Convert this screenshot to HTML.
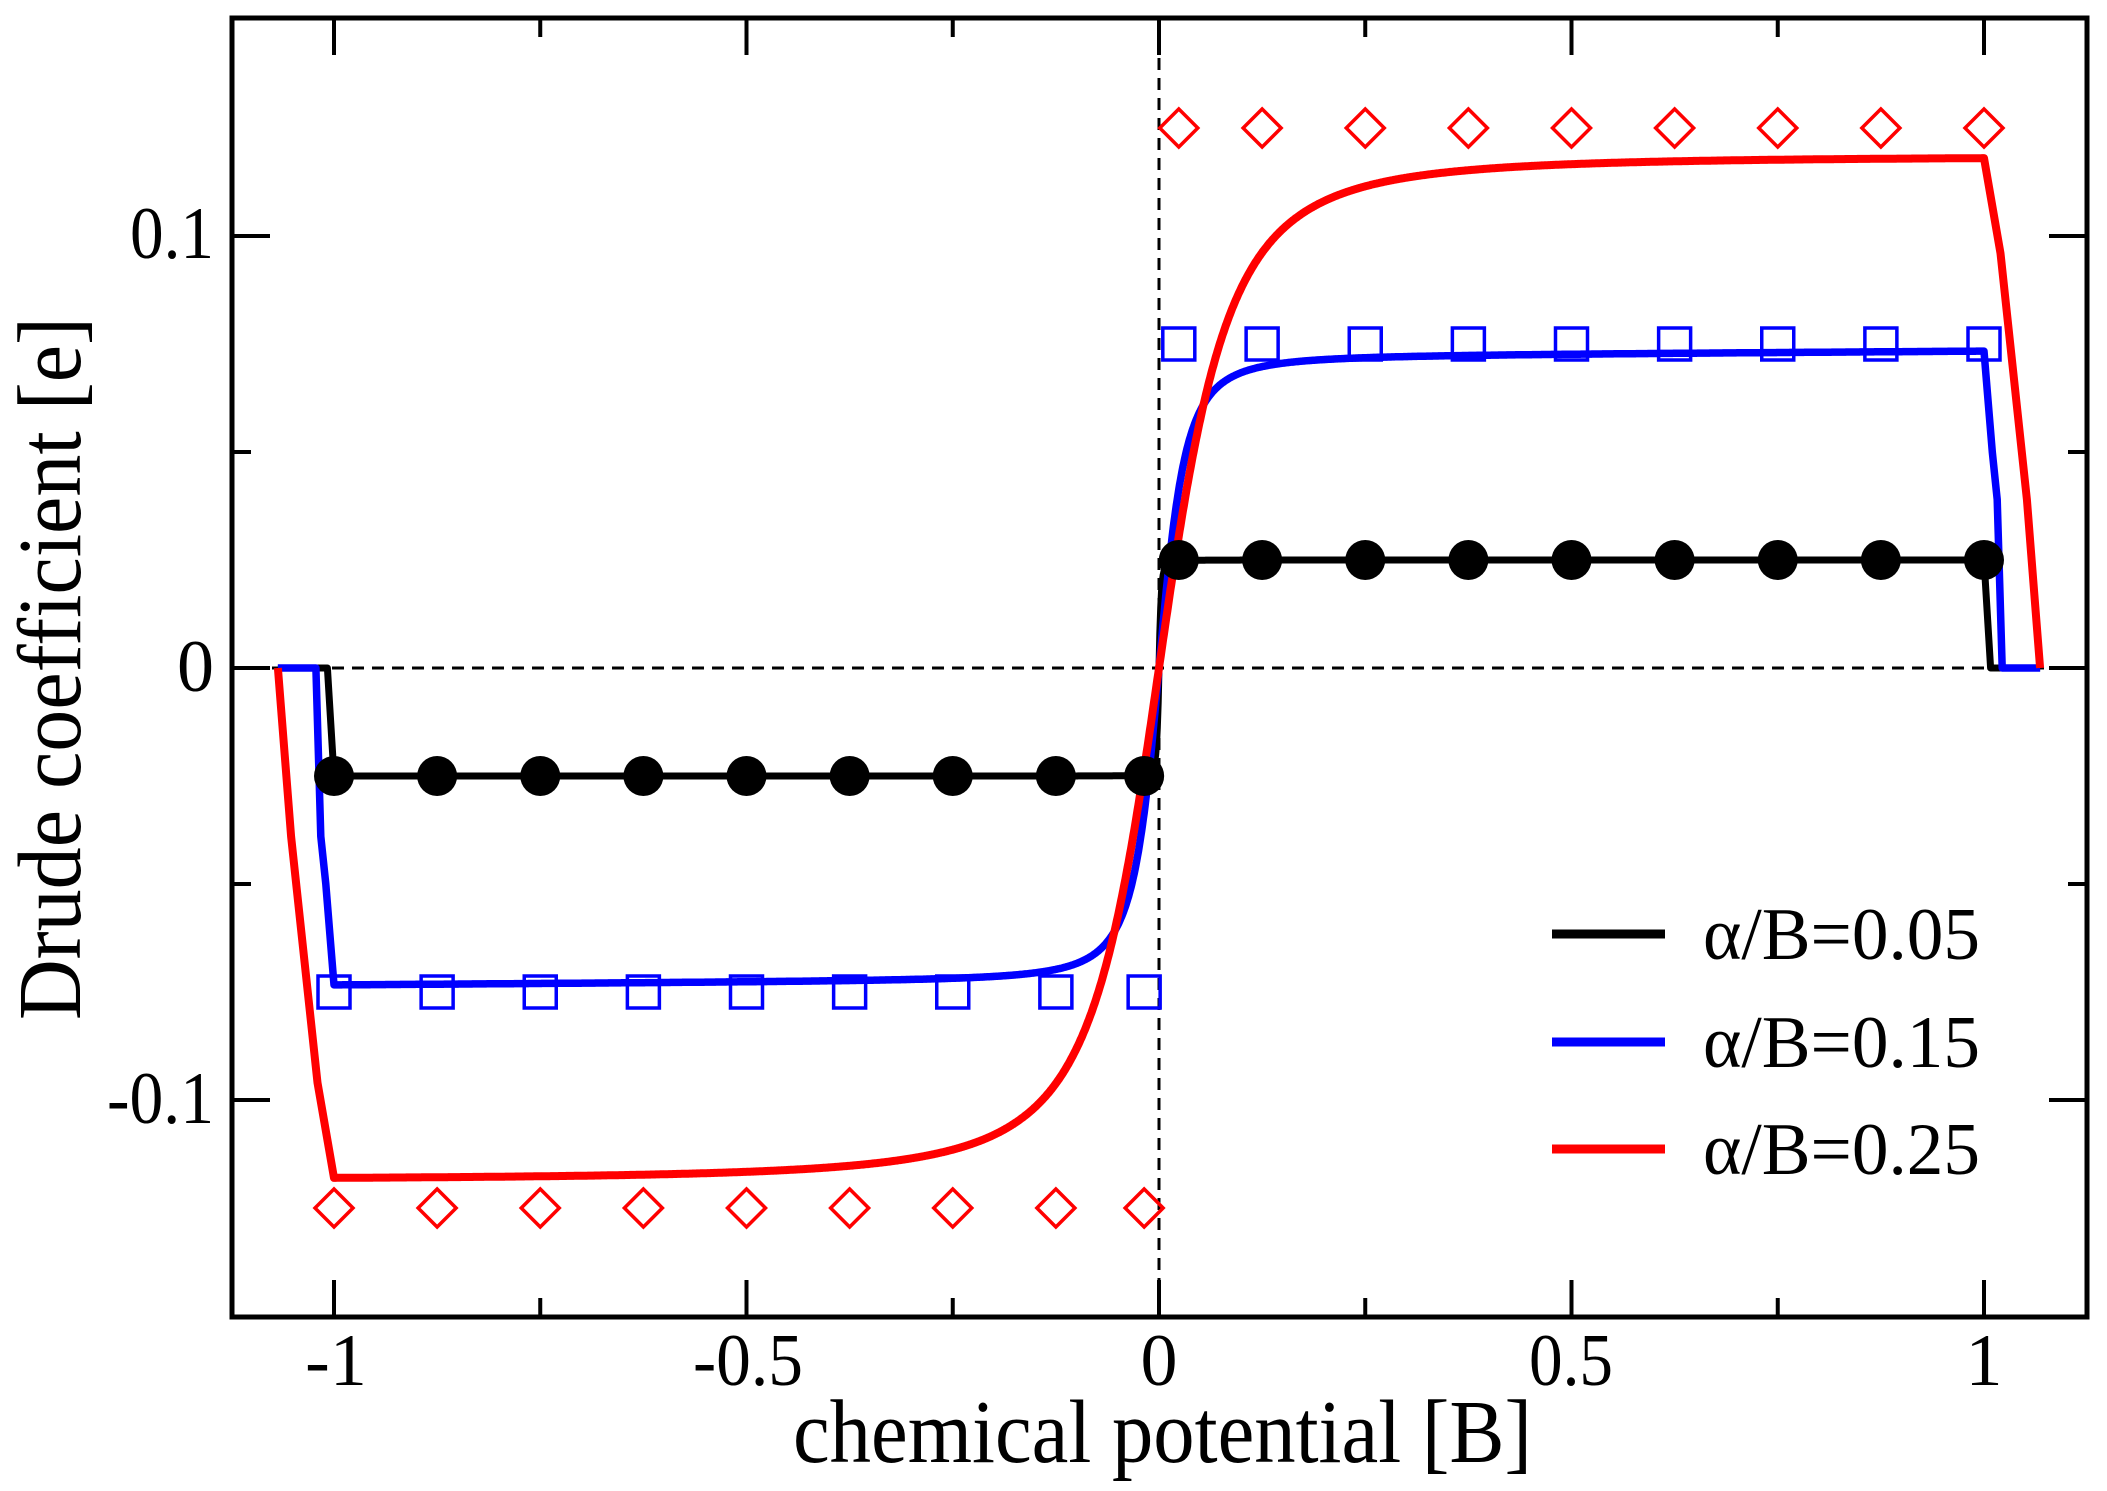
<!DOCTYPE html>
<html><head><meta charset="utf-8"><style>
html,body{margin:0;padding:0;background:#fff;}
svg{display:block;}
text{font-family:"Liberation Serif","DejaVu Serif",serif;fill:#000;}
</style></head><body>
<svg id="s" width="2107" height="1491" viewBox="0 0 2107 1491" xmlns="http://www.w3.org/2000/svg">
<rect width="2107" height="1491" fill="#fff"/>
<g stroke="#000" stroke-width="3" stroke-dasharray="12,8" fill="none">
<line x1="1159" y1="18" x2="1159" y2="1317"/>
<line x1="232" y1="668" x2="2087" y2="668"/>
</g>
<g id="curves" fill="none" stroke-linejoin="round"></g>
<g id="marks"></g>
<g id="ticks" stroke="#000" stroke-width="4"></g>
<rect x="232" y="18" width="1855" height="1299" fill="none" stroke="#000" stroke-width="5"/>
<g font-size="74" text-anchor="end">
<text x="214" y="258" textLength="84" lengthAdjust="spacingAndGlyphs">0.1</text>
<text x="214" y="691">0</text>
<text x="214" y="1123" textLength="107" lengthAdjust="spacingAndGlyphs">-0.1</text>
</g>
<g font-size="74" text-anchor="middle">
<text x="336" y="1385">-1</text>
<text x="748" y="1385" textLength="110" lengthAdjust="spacingAndGlyphs">-0.5</text>
<text x="1159" y="1385">0</text>
<text x="1571" y="1385" textLength="84" lengthAdjust="spacingAndGlyphs">0.5</text>
<text x="1984" y="1385">1</text>
</g>
<text x="793" y="1462" font-size="90" textLength="739" lengthAdjust="spacingAndGlyphs">chemical potential [B]</text>
<text transform="translate(80,1020) rotate(-90)" font-size="90" textLength="703" lengthAdjust="spacingAndGlyphs">Drude coefficient [e]</text>
<g stroke-width="9">
<line x1="1552" y1="934" x2="1665" y2="934" stroke="#000"/>
<line x1="1552" y1="1042" x2="1665" y2="1042" stroke="#0000ff"/>
<line x1="1552" y1="1149" x2="1665" y2="1149" stroke="#ff0000"/>
</g>
<g font-size="74">
<text x="1703" y="959" textLength="277" lengthAdjust="spacingAndGlyphs">α/B=0.05</text>
<text x="1703" y="1067" textLength="277" lengthAdjust="spacingAndGlyphs">α/B=0.15</text>
<text x="1703" y="1174" textLength="277" lengthAdjust="spacingAndGlyphs">α/B=0.25</text>
</g>
<script>
(function(){
var NS="http://www.w3.org/2000/svg";
function X(v){return 1159+825*v;}
function Y(v){return 668-4320*v;}
function el(p,tag,a){var e=document.createElementNS(NS,tag);for(var k in a)e.setAttribute(k,a[k]);p.appendChild(e);return e;}
var curves=document.getElementById('curves'),marks=document.getElementById('marks'),ticks=document.getElementById('ticks');
function build(fn,edge){
  var pts=[];
  var L=edge.slice().reverse().map(function(p){return[-p[0],-p[1]];});
  pts=pts.concat(L);
  for(var i=0;i<=2000;i++){var x=-1+i/1000;pts.push([x,fn(x)]);}
  pts=pts.concat(edge);
  return pts.map(function(p,i){return(i?'L':'M')+X(p[0]).toFixed(1)+' '+Y(p[1]).toFixed(1);}).join(' ');
}
function sg(x){return x<0?-1:1;}
var fb=function(x){var s=Math.abs(x);return sg(x)*0.025*s/Math.sqrt(s*s+0.000009);};
var fbl=function(x){var s=Math.abs(x);return sg(x)*(0.0722+0.0012*s)*s/Math.sqrt(s*s+0.00118);};
var fr=function(x){var s=Math.abs(x);return sg(x)*0.1185*s/Math.sqrt(s*s+0.0081);};
el(curves,'path',{d:build(fb,[[1.008,0],[1.068,0]]),stroke:'#000','stroke-width':7});
el(curves,'path',{d:build(fbl,[[1.004,0.064],[1.01,0.05],[1.016,0.039],[1.022,0],[1.068,0]]),stroke:'#0000ff','stroke-width':7.5});
el(curves,'path',{d:build(fr,[[1.02,0.096],[1.052,0.039],[1.068,0]]),stroke:'#ff0000','stroke-width':8});
var xs=[-1,-0.875,-0.75,-0.625,-0.5,-0.375,-0.25,-0.125,-0.018,0.024,0.125,0.25,0.375,0.5,0.625,0.75,0.875,1.0];
xs.forEach(function(x){
  var s=x<0?-1:1,cx=X(x);
  el(marks,'circle',{cx:cx,cy:Y(0.025*s),r:20,fill:'#000'});
  el(marks,'rect',{x:cx-16,y:Y(0.075*s)-16,width:32,height:32,fill:'none',stroke:'#0000ff','stroke-width':3.5});
  var cy=Y(0.125*s);
  el(marks,'path',{d:'M'+(cx-19)+' '+cy+' L'+cx+' '+(cy-19)+' L'+(cx+19)+' '+cy+' L'+cx+' '+(cy+19)+'Z',fill:'none',stroke:'#ff0000','stroke-width':3.5});
});
[-1,-0.5,0,0.5,1].forEach(function(v){var x=X(v);el(ticks,'line',{x1:x,y1:1317,x2:x,y2:1280});el(ticks,'line',{x1:x,y1:18,x2:x,y2:55});});
[-0.75,-0.25,0.25,0.75].forEach(function(v){var x=X(v);el(ticks,'line',{x1:x,y1:1317,x2:x,y2:1298});el(ticks,'line',{x1:x,y1:18,x2:x,y2:37});});
[-0.1,0,0.1].forEach(function(v){var y=Y(v);el(ticks,'line',{x1:232,y1:y,x2:270,y2:y});el(ticks,'line',{x1:2087,y1:y,x2:2049,y2:y});});
[-0.05,0.05].forEach(function(v){var y=Y(v);el(ticks,'line',{x1:232,y1:y,x2:251,y2:y});el(ticks,'line',{x1:2087,y1:y,x2:2068,y2:y});});
})();
</script>
</svg>
</body></html>
